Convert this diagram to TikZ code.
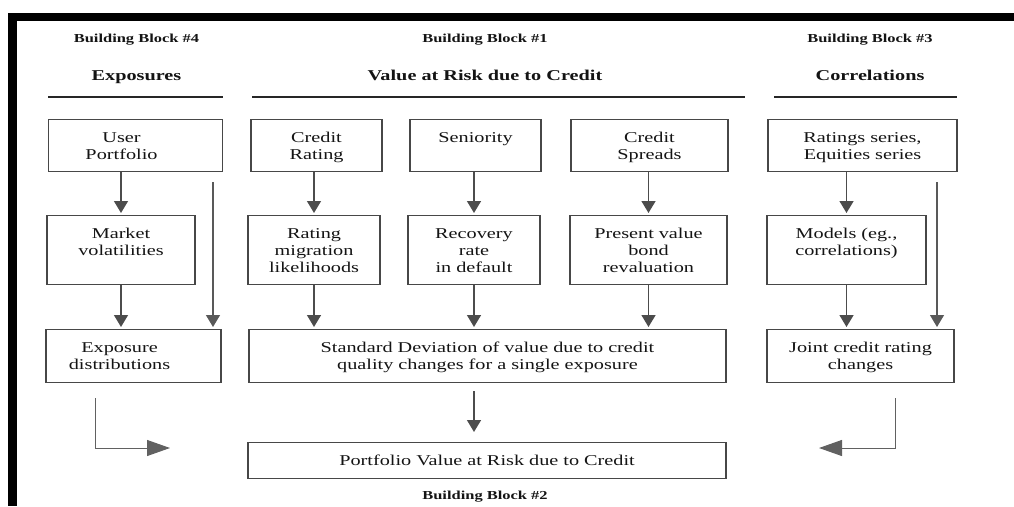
\documentclass[tikz,border=0pt]{standalone}
\usepackage{fontspec}
\setmainfont{Liberation Serif}[FakeStretch=1.35]
\usetikzlibrary{arrows.meta}
\newcommand\lft{\hspace*{-28pt}}
\begin{document}
\begin{tikzpicture}[x=1pt,y=-1pt,
  every node/.style={text=black!92, font=\fontsize{15}{17}\selectfont},
  box/.style={draw=black!72, line width=1.3pt, inner sep=0pt, align=center,
              text height=23pt, anchor=north},
  bb/.style={anchor=base, font=\fontsize{12.2}{14}\selectfont\bfseries},
  hd/.style={anchor=base, font=\fontsize{15}{17}\selectfont\bfseries},
  hline/.style={draw=black!85, line width=2pt},
  arr/.style={draw=black!70, line width=1.5pt, shorten >=2pt,
              -{Triangle[length=12pt,width=14pt]}},
  arrthin/.style={draw=black!65, line width=1.2pt, shorten >=2pt,
              -{Triangle[length=12pt,width=14pt]}},
  larr/.style={draw=black!62, line width=1pt,
              -{Triangle[length=23pt,width=16pt]}},
]
\useasboundingbox (0,0) rectangle (1014,506);
% frame
\fill[black] (8,12.7) rectangle (1014,20.7);
\fill[black] (8.3,12.7) rectangle (16.7,506);

% headings
\node[bb] (bb4) at (136.5,42.7) {Building Block \#4};
\node[bb] (bb1) at (485,42.7) {Building Block \#1};
\node[bb] (bb3) at (870,42.7) {Building Block \#3};
\node[hd] (h4) at (136.5,80) {Exposures};
\node[hd] (h1) at (485,80) {Value at Risk due to Credit};
\node[hd] (h3) at (870,80) {Correlations};
\draw[hline] (48,97) -- (223,97);
\draw[hline] (252,97) -- (745,97);
\draw[hline] (774,97) -- (957,97);

% row 1
\node[box, text width=174pt, text depth=29pt] (user) at (135.5,119) {\lft User\\\lft Portfolio};
\node[box, text width=131pt, text depth=29pt] (crating) at (316.5,119) {Credit\\Rating};
\node[box, text width=131pt, text depth=29pt] (senior) at (475.5,119) {Seniority};
\node[box, text width=157pt, text depth=29pt] (spreads) at (649.5,119) {Credit\\Spreads};
\node[box, text width=189pt, text depth=29pt] (ratings) at (862.5,119) {Ratings series,\\Equities series};
% row 2
\node[box, text width=148pt, text depth=46pt] (market) at (121,215) {Market\\volatilities};
\node[box, text width=132pt, text depth=46pt] (migr) at (314,215) {Rating\\migration\\likelihoods};
\node[box, text width=132pt, text depth=46pt] (recov) at (474,215) {Recovery\\rate\\in default};
\node[box, text width=157pt, text depth=46pt] (pv) at (648.5,215) {Present value\\bond\\revaluation};
\node[box, text width=159pt, text depth=46pt] (models) at (846.5,215) {Models (eg.,\\correlations)};
% row 3
\node[box, text width=175pt, text depth=30pt] (expo) at (133.5,329) {\lft Exposure\\\lft distributions};
\node[box, text width=477pt, text depth=30pt] (std) at (487.5,329) {Standard Deviation of value due to credit\\quality changes for a single exposure};
\node[box, text width=187pt, text depth=30pt] (joint) at (860.5,329) {Joint credit rating\\changes};
% row 4
\node[box, text width=478pt, text depth=13pt] (port) at (487,442) {Portfolio Value at Risk due to Credit};
\node[bb] (bb2) at (485,499) {Building Block \#2};

% connectors
\draw[arr] (market.north |- user.south) -- (market.north);
\draw[arr] (market.south) -- (market.south |- expo.north);
\coordinate (la) at (213,182);
\draw[arrthin] (la) -- (la |- expo.north);
\draw[arr] (migr.north |- crating.south) -- (migr.north);
\draw[arr] (migr.south) -- (migr.south |- std.north);
\draw[arr] (recov.north |- senior.south) -- (recov.north);
\draw[arr] (recov.south) -- (recov.south |- std.north);
\draw[arr] (pv.north |- spreads.south) -- (pv.north);
\draw[arr] (pv.south) -- (pv.south |- std.north);
\draw[arr] (models.north |- ratings.south) -- (models.north);
\draw[arr] (models.south) -- (models.south |- joint.north);
\coordinate (ra) at (937,182);
\draw[arrthin] (ra) -- (ra |- joint.north);
\draw[arr, shorten <=8pt, shorten >=10pt] (recov.south |- std.south) -- (recov.south |- port.north);
\coordinate (l1) at (95,398);
\coordinate (l2) at (170,448);
\draw[larr] (l1) |- (l2);
\coordinate (r1) at (895,398);
\coordinate (r2) at (819,448);
\draw[larr] (r1) |- (r2);
\end{tikzpicture}
\end{document}
